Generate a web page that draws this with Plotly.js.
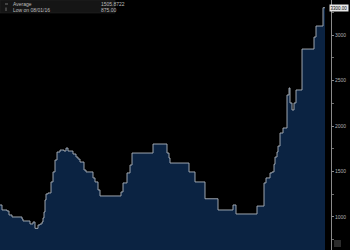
<!DOCTYPE html>
<html>
<head>
<meta charset="utf-8">
<script src="https://cdn.plot.ly/plotly-3.0.1.min.js"></script>
<style>html,body{margin:0;padding:0;background:#000;}#chart{width:350px;height:250px;}</style>
</head>
<body>
<div id="chart"></div>
<script>
// Time position (relative units along the x axis) and price values (step series)
var positions = [0,2,7,9,12,22,23,30,33,35,38,40,42,43,44,45,46,48,51,53,55,57,60,64,66,68,73,76,78,80,84,86,93,95,98,100,121,123,127,130,132,153,167,169,170,189,195,205,218,233,236,257,264,266,270,272,274,275,277,278,280,283,287,289,290,292,294,296,302,314,316,323,325];
var values    = [1132,1077,1066,1022,1000,978,956,923,945,875,912,923,945,989,1055,1187,1253,1264,1385,1495,1626,1714,1736,1725,1758,1725,1692,1659,1637,1604,1516,1495,1429,1385,1297,1231,1275,1374,1484,1571,1703,1802,1703,1648,1593,1495,1385,1200,1077,1132,1033,1120,1374,1429,1484,1495,1580,1659,1714,1780,1923,1978,2341,2418,2253,2176,2253,2396,2846,2978,3099,3300,3300];
var tickValues = [1000,1500,2000,2500,3000];
var tickLabels = ["1000","1500","2000","2500","3000"];
var legendLabels = ["Average","Low on 08/01/16"];
var legendValues = ["1505.8722","875.00"];
var lastLabel = "3300.00";

var W = 331, H = 250;
function px(x){return x/W;}
function py(y){return 1 - y/H;}

var trace = {
  x: positions, y: values, type: 'scatter', mode: 'lines',
  line: {shape: 'hv', color: '#aeb5be', width: 0.9},
  fill: 'tozeroy', fillcolor: '#0b2342',
  hoverinfo: 'skip'
};

var annotations = [];
for (var i = 0; i < legendLabels.length; i++) {
  var yy = 4 + i*5.5;
  annotations.push({xref:'paper', yref:'paper', x: px(11), y: py(yy), xanchor:'left', yanchor:'middle',
    text: legendLabels[i], showarrow:false, font:{family:'Arial, Liberation Sans', size:5, color:'#bdbdbd'}});
  annotations.push({xref:'paper', yref:'paper', x: px(99), y: py(yy), xanchor:'left', yanchor:'middle',
    text: legendValues[i], showarrow:false, font:{family:'Arial, Liberation Sans', size:5, color:'#bdbdbd'}});
}
annotations.push({xref:'paper', yref:'y', x: px(349), y: 3300, xanchor:'right', yanchor:'middle',
  text: lastLabel, showarrow:false, bgcolor:'#e8e8e8', borderpad:0.5,
  font:{family:'Arial, Liberation Sans', size:4.5, color:'#000'}});

var shapes = [
  {type:'rect', xref:'paper', yref:'paper', x0:0, x1:px(115), y0:py(13), y1:1,
   fillcolor:'#151515', line:{color:'#2a2a2a', width:0.5}, layer:'above'},
  {type:'line', xref:'paper', yref:'paper', x0:px(5), x1:px(8), y0:py(4), y1:py(4), line:{color:'#9a9a9a', width:0.7}, layer:'above'},
  {type:'line', xref:'paper', yref:'paper', x0:px(6), x1:px(6), y0:py(7.5), y1:py(11), line:{color:'#9a9a9a', width:0.7}, layer:'above'},
  {type:'rect', xref:'paper', yref:'paper', x0:px(334), x1:px(341), y0:py(247), y1:py(240),
   fillcolor:'#2b2b2b', line:{width:0}}
];

var layout = {
  width: 350, height: 250,
  margin: {l:0, r:19, t:0, b:0, pad:0},
  paper_bgcolor: '#000', plot_bgcolor: '#000',
  showlegend: false,
  xaxis: {range:[0, 331], visible:false, fixedrange:true},
  yaxis: {side:'right', range:[637, 3385], tickvals: tickValues, ticktext: tickLabels,
    showgrid:false, zeroline:false, showline:true, linecolor:'#8a8a8a', linewidth:1,
    ticks:'outside', ticklen:2, tickcolor:'#8a8a8a', tickwidth:1,
    minor:{dtick:250, ticks:'outside', ticklen:1.5, tickcolor:'#6a6a6a'},
    tickfont:{family:'Arial, Liberation Sans', size:5, color:'#b0b0b0'}},
  annotations: annotations,
  shapes: shapes
};

Plotly.newPlot('chart', [trace], layout, {staticPlot:true, displayModeBar:false});
</script>
</body>
</html>
